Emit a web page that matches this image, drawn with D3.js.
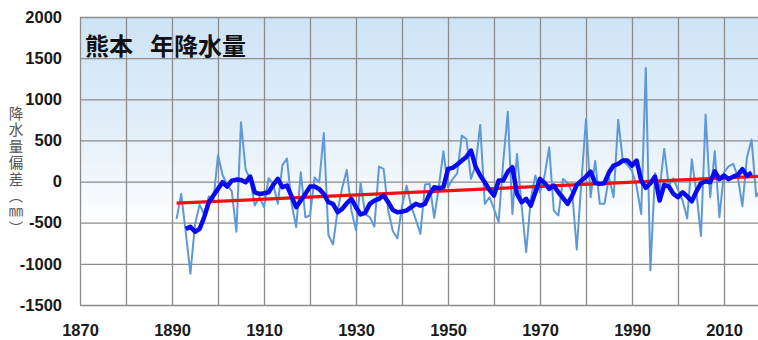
<!DOCTYPE html>
<html><head><meta charset="utf-8">
<script src="https://cdn.jsdelivr.net/npm/d3@7"></script>
<style>
html,body{margin:0;padding:0;background:#fff;}
svg{display:block;}
</style></head>
<body>
<svg id="chart" width="758" height="340"></svg>
<script>
// ---- data ----
const startYear = 1891;
const annual = [
 -454,-150,-620,-1120,-520,-280,-400,-180,-230,320,
 80,-40,-120,-610,720,150,20,-290,-190,-310,
 40,-30,-270,200,280,-270,-555,113,-433,-413,
 50,-10,590,-650,-765,-350,-75,140,-350,-595,
 -20,-393,-433,-547,182,154,-352,-600,-690,-300,
 -50,-300,-460,-636,-36,-28,-441,-69,369,-69,
 30,100,559,518,32,200,688,-271,-190,-330,
 -494,235,850,-393,336,-292,-859,-211,73,-130,
 73,417,-352,-413,32,-16,-130,-826,0,761,
 -190,250,-271,-271,50,-190,750,255,200,130,
 -60,-393,1381,-1077,100,-100,400,-50,40,-100,
 -230,-450,270,-130,-660,814,-190,370,-433,110,
 185,215,60,-300,296,510,-180,-100
];
const meanStart = 1893;
const mean5 = [
 -575,-550,-610,-575,-433,-251,-170,-89,-8,-60,
 12,24,20,-8,61,-130,-150,-142,-130,-40,
 32,-69,-49,-180,-312,-231,-150,-61,-61,-89,
 -150,-251,-271,-373,-332,-263,-211,-312,-400,-380,
 -271,-231,-211,-170,-250,-344,-373,-365,-352,-310,
 -271,-292,-271,-150,-69,-81,-69,154,166,207,
 255,300,377,180,73,-8,-100,-170,12,12,
 120,174,-150,-251,-211,-292,-130,32,-16,-89,
 -49,-130,-200,-271,-170,-40,12,60,121,-16,
 -28,-20,113,194,215,255,255,194,255,12,
 -77,-20,60,-231,-40,-60,-150,-190,-130,-180,
 -240,-120,-20,4,-8,125,30,73,30,60,
 80,150,70,110
];
const trendYears = [1891, 2018];
const trendValues = [-263, 65];
const yTicks = [-1500,-1000,-500,0,500,1000,1500,2000];
const xGrid = [1870,1880,1890,1900,1910,1920,1930,1940,1950,1960,1970,1980,1990,2000,2010,2020];
const xLabels = [1870,1890,1910,1930,1950,1970,1990,2010];
const titlePlace = "熊本";
const titleMain = "年降水量";
const yTitle = "降水量偏差（㎜）";

// ---- chart ----
const L = 80, T = 17, B = 305;
const svg = d3.select("#chart");
const x = d3.scaleLinear().domain([1870, 2020]).range([L, L + 150*4.6]);
const y = d3.scaleLinear().domain([-1500, 2000]).range([B, T]);
const R = x(2020);

const defs = svg.append("defs");
const grad = defs.append("linearGradient").attr("id","bg").attr("x1",0).attr("y1",0).attr("x2",0).attr("y2",1);
grad.append("stop").attr("offset","0%").attr("stop-color","#cde3f5");
grad.append("stop").attr("offset","40%").attr("stop-color","#e3eff9");
grad.append("stop").attr("offset","72%").attr("stop-color","#ffffff");
grad.append("stop").attr("offset","100%").attr("stop-color","#ffffff");
defs.append("clipPath").attr("id","clip").append("rect")
  .attr("x", L).attr("y", T - 2).attr("width", R - L).attr("height", B - T + 4);

svg.append("rect").attr("x", L).attr("y", T).attr("width", R - L).attr("height", B - T).attr("fill","url(#bg)");

// gridlines
const gx = svg.append("g").attr("transform",`translate(0,${B})`)
  .call(d3.axisBottom(x).tickValues(xGrid).tickSize(-(B - T)).tickFormat(""));
gx.select(".domain").remove();
gx.selectAll("line").attr("stroke","#8c8c8c").attr("stroke-width",1.3);

const gy = svg.append("g").attr("transform",`translate(${L},0)`)
  .call(d3.axisLeft(y).tickValues(yTicks).tickSize(-(R - L)).tickFormat(""));
gy.select(".domain").remove();
gy.selectAll("line").attr("stroke","#8c8c8c").attr("stroke-width",1.3);

// tick labels
const yl = svg.append("g").attr("transform",`translate(${L},0)`)
  .call(d3.axisLeft(y).tickValues(yTicks).tickSize(0).tickPadding(18).tickFormat(d => String(d)));
yl.select(".domain").remove();
yl.selectAll("text").attr("font-family","'Liberation Sans', Arial, sans-serif")
  .attr("font-weight","bold").attr("font-size","16.5px").attr("fill","#1a1a1a");

const xl = svg.append("g").attr("transform",`translate(0,${B})`)
  .call(d3.axisBottom(x).tickValues(xLabels).tickSize(0).tickPadding(19).tickFormat(d => String(d)));
xl.select(".domain").remove();
xl.selectAll("text").attr("font-family","'Liberation Sans', Arial, sans-serif")
  .attr("font-weight","bold").attr("font-size","16.5px").attr("fill","#1a1a1a");

// series
const plot = svg.append("g").attr("clip-path","url(#clip)");
const annualData = annual.map((v,i) => ({year: startYear + i, v}));
const meanData = mean5.map((v,i) => ({year: meanStart + i, v}));
const trendData = trendYears.map((yr,i) => ({year: yr, v: trendValues[i]}));
const line = d3.line().x(d => x(d.year)).y(d => y(d.v));

plot.append("path").datum(annualData).attr("d", line)
  .attr("fill","none").attr("stroke","#5f98d8").attr("stroke-width",2).attr("stroke-linejoin","round");
plot.append("path").datum(trendData).attr("d", line)
  .attr("fill","none").attr("stroke","#f01010").attr("stroke-width",3.2);
plot.append("path").datum(meanData).attr("d", line)
  .attr("fill","none").attr("stroke","#0a0af0").attr("stroke-width",4.5).attr("stroke-linejoin","round");

// title
const tt = svg.append("text").attr("x", 85).attr("y", 55)
  .attr("font-family","'Noto Sans CJK JP', sans-serif").attr("font-weight","bold")
  .attr("font-size","24px").attr("fill","#111");
tt.append("tspan").text(titlePlace);
tt.append("tspan").attr("x", 150).text(titleMain);

// y title (vertical)
svg.append("text").attr("x", 16).attr("y", 106).text(yTitle)
  .attr("font-family","'Noto Sans CJK JP', sans-serif")
  .attr("font-size","14.5px").attr("fill","#555").attr("letter-spacing","2px")
  .style("writing-mode","vertical-rl").style("text-orientation","upright");
</script>
</body></html>
